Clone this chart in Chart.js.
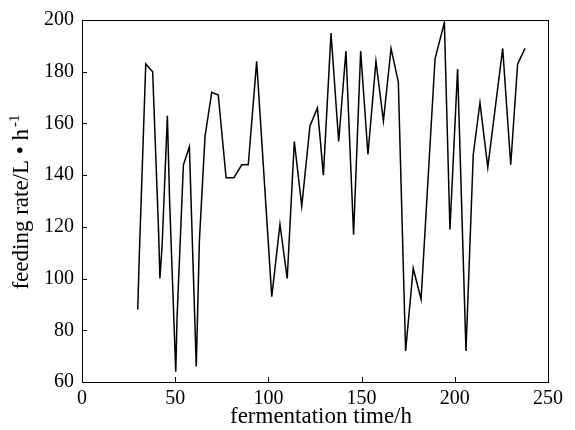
<!DOCTYPE html>
<html lang="en">
<head>
  <meta charset="UTF-8">
  <title>Feeding rate</title>
  <script src="https://cdn.jsdelivr.net/npm/chart.js"></script>
  <style>
    body { margin: 0; background: #fff; }
    #box { width: 575px; height: 430px; }
  </style>
</head>
<body>
  <div id="box"><canvas id="feedChart"></canvas></div>

  <script>
// values
const times = [29.9, 30.7, 34.2, 37.9, 41.1, 41.8, 43.0, 45.8, 47.0, 50.3, 51.0, 54.4, 57.6, 61.3, 63.0, 66.0,
  69.6, 73.1, 77.3, 81.5, 85.7, 89.2, 93.7, 101.8, 106.2, 110.1, 113.9, 117.9, 122.3, 126.3, 129.5,
  133.6, 137.7, 141.6, 145.7, 149.5, 153.4, 157.7, 161.7, 165.8, 169.7, 173.6, 177.7, 181.9, 189.4,
  194.4, 197.4, 201.5, 206.0, 209.9, 213.5, 217.7, 225.7, 230.0, 233.7, 237.7];
const rates = [88, 108, 183, 180, 118, 100, 113, 163, 130, 64, 85, 144, 151, 66, 115, 155,
  172, 171, 139, 139, 144, 144, 184, 93, 121, 100, 153, 128, 159, 166, 140,
  195, 153, 188, 117, 188, 148, 184, 161, 189, 176, 72, 104, 92, 185,
  199, 119, 181, 72, 148, 168, 143, 189, 144, 183, 189];
const xTicks = [0, 50, 100, 150, 200, 250];
const yTicks = [60, 80, 100, 120, 140, 160, 180, 200];
const xTitle = 'fermentation time/h';
const yTitle = 'feeding rate/L • h';
const yTitleSup = '-1';

const points = times.map((t, i) => ({ x: t, y: rates[i] }));

const serif = '"Liberation Serif", "Times New Roman", serif';
const tickFont = { family: serif, size: 20 };

// frame, inward tick marks and axis titles (the y title has a superscript)
const framePlugin = {
  id: 'frame',
  afterDraw(chart) {
    const { ctx, chartArea: a, scales } = chart;
    ctx.save();
    ctx.strokeStyle = '#000';
    ctx.lineWidth = 1;
    ctx.strokeRect(a.left + 0.5, a.top + 0.5, a.right - a.left, a.bottom - a.top);
    ctx.beginPath();
    xTicks.forEach(v => {
      const px = Math.round(scales.x.getPixelForValue(v)) + 0.5;
      ctx.moveTo(px, a.bottom);
      ctx.lineTo(px, a.bottom - 5);
    });
    yTicks.forEach(v => {
      const py = Math.round(scales.y.getPixelForValue(v)) + 0.5;
      ctx.moveTo(a.left, py);
      ctx.lineTo(a.left + 5, py);
    });
    ctx.stroke();

    ctx.fillStyle = '#000';
    ctx.textBaseline = 'alphabetic';
    ctx.font = '23px ' + serif;
    ctx.textAlign = 'center';
    ctx.fillText(xTitle, (a.left + a.right) / 2 + 6, 423);

    // y title, rotated
    ctx.textAlign = 'left';
    const mainW = ctx.measureText(yTitle).width;
    ctx.font = '15px ' + serif;
    const supW = ctx.measureText(yTitleSup).width;
    const total = mainW + 2 + supW;
    const cy = (a.top + a.bottom) / 2 + 1;
    ctx.translate(28, cy + total / 2);
    ctx.rotate(-Math.PI / 2);
    ctx.font = '23px ' + serif;
    ctx.fillText(yTitle, 0, 0);
    ctx.font = '15px ' + serif;
    ctx.fillText(yTitleSup, mainW + 2, -9);
    ctx.restore();
  }
};

new Chart(document.getElementById('feedChart'), {
  type: 'line',
  data: {
    datasets: [{
      data: points,
      borderColor: '#000',
      borderWidth: 1.5,
      pointRadius: 0,
      tension: 0,
      fill: false
    }]
  },
  options: {
    responsive: true,
    maintainAspectRatio: false,
    animation: false,
    layout: { padding: { top: 13, right: 27, left: 0, bottom: 0 } },
    plugins: { legend: { display: false }, tooltip: { enabled: false } },
    scales: {
      x: {
        type: 'linear',
        min: 0,
        max: 250,
        afterFit: s => { s.height = 48; },
        afterBuildTicks: s => { s.ticks = xTicks.map(v => ({ value: v })); },
        grid: { display: false, drawTicks: false },
        border: { display: false },
        ticks: { color: '#000', font: tickFont, padding: 5, maxRotation: 0 }
      },
      y: {
        min: 60,
        max: 200,
        afterFit: s => { s.width = 82; },
        afterBuildTicks: s => { s.ticks = yTicks.map(v => ({ value: v })); },
        grid: { display: false, drawTicks: false },
        border: { display: false },
        ticks: { color: '#000', font: tickFont, padding: 8 }
      }
    }
  },
  plugins: [framePlugin]
});
  </script>
</body>
</html>
